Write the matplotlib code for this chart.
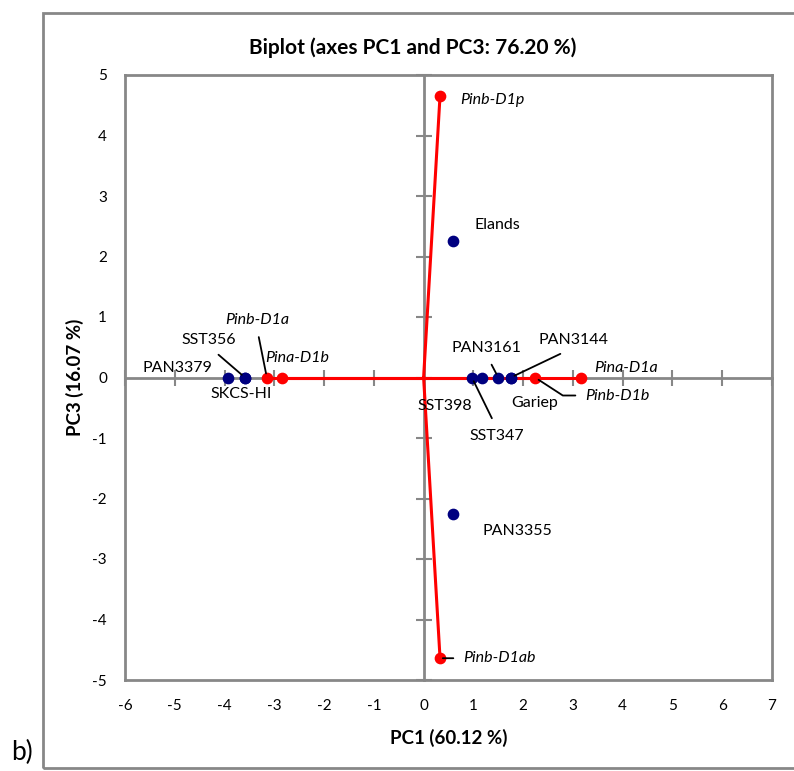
import matplotlib.pyplot as plt
from matplotlib.patches import Rectangle

plt.rcParams['font.family'] = ['Lato', 'DejaVu Sans']
plt.rcParams['axes.unicode_minus'] = False

# cultivars (observations)
cultivars = ['PAN3379', 'SST356', 'SKCS-HI', 'SST347', 'SST398', 'PAN3161',
             'PAN3144', 'Gariep', 'Elands', 'PAN3355']
cult_pc1 = [-3.94, -3.59, -3.59, 0.97, 1.17, 1.50, 1.75, 1.75, 0.60, 0.60]
cult_pc3 = [0.0, 0.0, 0.0, 0.0, 0.0, 0.0, 0.0, 0.0, 2.25, -2.25]

# alleles (variables)
alleles = ['Pinb-D1a', 'Pina-D1b', 'Pinb-D1b', 'Pina-D1a', 'Pinb-D1p', 'Pinb-D1ab']
all_pc1 = [-3.15, -2.85, 2.24, 3.17, 0.33, 0.33]
all_pc3 = [0.0, 0.0, 0.0, 0.0, 4.66, -4.64]

xticks = list(range(-6, 8))
yticks = list(range(-5, 6))

grey = '#878787'
navy = '#000080'

fig = plt.figure(figsize=(7.94, 7.71), dpi=100)
pos = [125 / 794, 1 - 680 / 771, 647 / 794, 605 / 771]

# outer chart border
fig.patches.append(Rectangle((43 / 794, 1 - 768 / 771), 800 / 794, 755 / 771,
                             transform=fig.transFigure, fill=False,
                             edgecolor=grey, lw=2))

# frame axes carries the box and the tick labels
frame = fig.add_axes(pos)
frame.set_xlim(-6, 7)
frame.set_ylim(-5, 5)
frame.set_xticks(xticks)
frame.set_yticks(yticks)
frame.tick_params(length=0, labelsize=11)
frame.tick_params(axis='y', pad=13)
frame.tick_params(axis='x', pad=14)
for s in frame.spines.values():
    s.set_color(grey)
    s.set_linewidth(2)
frame.set_facecolor('none')
frame.set_xlabel('PC1 (60.12 %)', fontsize=13.5, fontweight='bold', labelpad=11)
frame.set_ylabel('PC3 (16.07 %)', fontsize=13.5, fontweight='bold', labelpad=6)

# main axes: zero-crossing axes with ticks
ax = fig.add_axes(pos, sharex=frame, sharey=frame)
ax.set_facecolor('none')
ax.spines['left'].set_position(('data', 0))
ax.spines['bottom'].set_position(('data', 0))
ax.spines['top'].set_visible(False)
ax.spines['right'].set_visible(False)
for k in ['left', 'bottom']:
    ax.spines[k].set_color(grey)
    ax.spines[k].set_linewidth(2)
ax.tick_params(direction='inout', length=12, width=1.5, color=grey,
               labelleft=False, labelbottom=False)

# vectors from origin
for x, y in zip(all_pc1, all_pc3):
    ax.plot([0, x], [0, y], color='red', lw=2.2, zorder=3)
ax.scatter(all_pc1, all_pc3, s=55, color='red', zorder=4)
ax.scatter(cult_pc1, cult_pc3, s=55, color=navy, zorder=5)

# label offsets in pixels (dx, dy, ha, leader)
cult_lab = {
    'PAN3379': (-50, 10, 'center', None),
    'SST356': (-36, 38, 'center', ((0.5, 0), 6, 3)),
    'SKCS-HI': (-4, -17, 'center', None),
    'SST347': (25, -58, 'center', ((0.5, 1), 6, 3)),
    'SST398': (-37, -29, 'center', None),
    'PAN3161': (-12, 30, 'center', ((0.5, 0), 6, 3)),
    'PAN3144': (63, 37, 'center', ((0.5, 0), 6, 3)),
    'Gariep': (24, -25, 'center', None),
    'Elands': (21, 16, 'left', None),
    'PAN3355': (29, -17, 'left', None),
}
all_lab = {
    'Pinb-D1a': (-10, 57, 'center', ((0.5, 0), 5, 3)),
    'Pina-D1b': (-17, 20, 'left', None),
    'Pinb-D1b': (50, -18, 'left', ((0, 0.5), 5, 3)),
    'Pina-D1a': (13, 10, 'left', None),
    'Pinb-D1p': (20, -4, 'left', None),
    'Pinb-D1ab': (23, 0, 'left', ((0, 0.5), 5, 2)),
}

def put(name, x, y, spec, style):
    dx, dy, ha, lead = spec
    kw = {}
    if lead is not None:
        rel, sa, sb = lead
        cs = 'arc3'
        if name == 'Pinb-D1b':
            cs = 'angle,angleA=0,angleB=-33,rad=0'
        kw['arrowprops'] = dict(arrowstyle='-', color='black', lw=1.3,
                                relpos=rel, shrinkA=sa, shrinkB=sb,
                                connectionstyle=cs)
    ax.annotate(name, (x, y), xytext=(dx, dy), textcoords='offset pixels',
                ha=ha, va='center', fontsize=11.5, style=style, zorder=6, **kw)

for n, x, y in zip(cultivars, cult_pc1, cult_pc3):
    put(n, x, y, cult_lab[n], 'normal')
for n, x, y in zip(alleles, all_pc1, all_pc3):
    put(n, x, y, all_lab[n], 'italic')

fig.text(413 / 794, 1 - 48 / 771, 'Biplot (axes PC1 and PC3: 76.20 %)',
         ha='center', va='center', fontsize=15, fontweight='bold')
fig.text(22 / 794, 1 - 752 / 771, 'b)', ha='center', va='center', fontsize=19)

fig.savefig('out.png', dpi=100)
